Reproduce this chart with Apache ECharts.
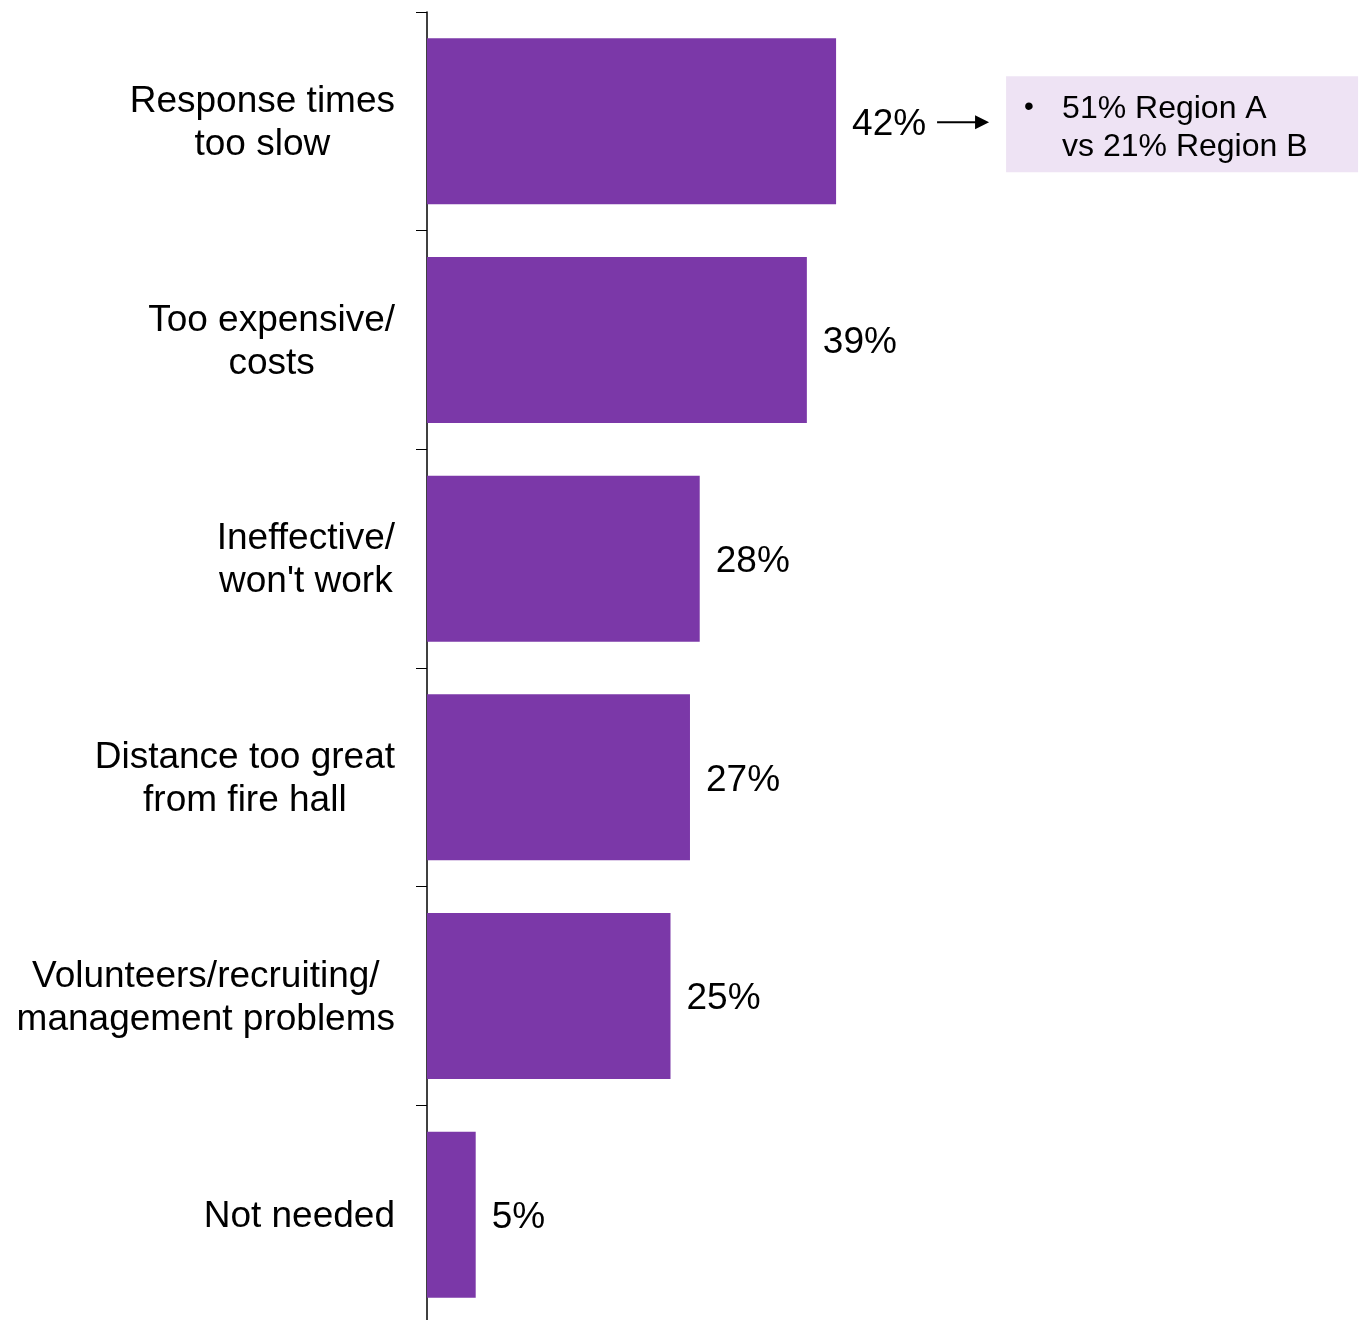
<!DOCTYPE html>
<html>
<head>
<meta charset="utf-8">
<script src="https://cdn.jsdelivr.net/npm/echarts@6/dist/echarts.min.js"></script>
<style>
html,body{margin:0;padding:0;background:#fff;}
#chart{width:1363px;height:1320px;}
</style>
</head>
<body>
<div id="chart"></div>
<script>
const categories = [
  "Response times\ntoo slow",
  "Too expensive/\ncosts",
  "Ineffective/\nwon't work",
  "Distance too great\nfrom fire hall",
  "Volunteers/recruiting/\nmanagement problems",
  "Not needed"
];
const values = [42, 39, 28, 27, 25, 5];
const noteLines = ["51% Region A", "vs 21% Region B"];

const FONT = "'Liberation Sans', Arial, sans-serif";
const chart = echarts.init(document.getElementById('chart'), null, {renderer: 'canvas'});

chart.setOption({
  animation: false,
  backgroundColor: '#ffffff',
  grid: {left: 427, top: 12, width: 487, height: 1312, containLabel: false, outerBoundsMode: 'none'},
  xAxis: {
    type: 'value', min: 0, max: 50, show: false,
    splitLine: {show: false}
  },
  yAxis: {
    type: 'category',
    data: categories,
    inverse: true,
    axisLine: {show: true, lineStyle: {color: '#000', width: 1.5}},
    axisTick: {show: true, inside: false, length: 11, lineStyle: {color: '#000', width: 1}},
    axisLabel: {
      margin: 32,
      align: 'right',
      padding: [4, 0, 0, 0],
      formatter: function (v) {
        return v.split('\n').map(function (l) { return '{c|' + l + '}'; }).join('\n');
      },
      rich: {
        c: {align: 'center', fontFamily: FONT, fontSize: 37, lineHeight: 43, color: '#000'}
      }
    },
    splitLine: {show: false}
  },
  series: [{
    type: 'bar',
    data: values,
    barWidth: 166,
    itemStyle: {color: '#7B38A8'},
    label: {
      show: true, position: 'right', distance: 16, offset: [0, 3],
      formatter: '{c}%', fontFamily: FONT, fontSize: 37, color: '#000'
    }
  }]
});

// annotation next to first bar
const p = chart.convertToPixel({xAxisIndex: 0, yAxisIndex: 0}, [values[0], 0]);
const ax = p[0] + 101, ay = p[1] + 1;
const boxX = p[0] + 170, boxY = ay - 46;
chart.setOption({
  graphic: [
    {type: 'line', shape: {x1: ax, y1: ay, x2: ax + 40, y2: ay}, style: {stroke: '#000', lineWidth: 2}},
    {type: 'polygon', shape: {points: [[ax + 38, ay - 7], [ax + 52, ay], [ax + 38, ay + 7]]}, style: {fill: '#000'}},
    {type: 'rect', shape: {x: boxX, y: boxY, width: 352, height: 96}, style: {fill: '#EEE3F4'}},
    {type: 'text', x: boxX + 18, y: boxY + 31, style: {text: '•', font: '28px ' + FONT, fill: '#000', verticalAlign: 'middle'}},
    {type: 'text', x: boxX + 56, y: boxY + 33, style: {text: noteLines[0], font: '32px ' + FONT, fill: '#000', verticalAlign: 'middle'}},
    {type: 'text', x: boxX + 56, y: boxY + 71, style: {text: noteLines[1], font: '32px ' + FONT, fill: '#000', verticalAlign: 'middle'}}
  ]
});
</script>
</body>
</html>
